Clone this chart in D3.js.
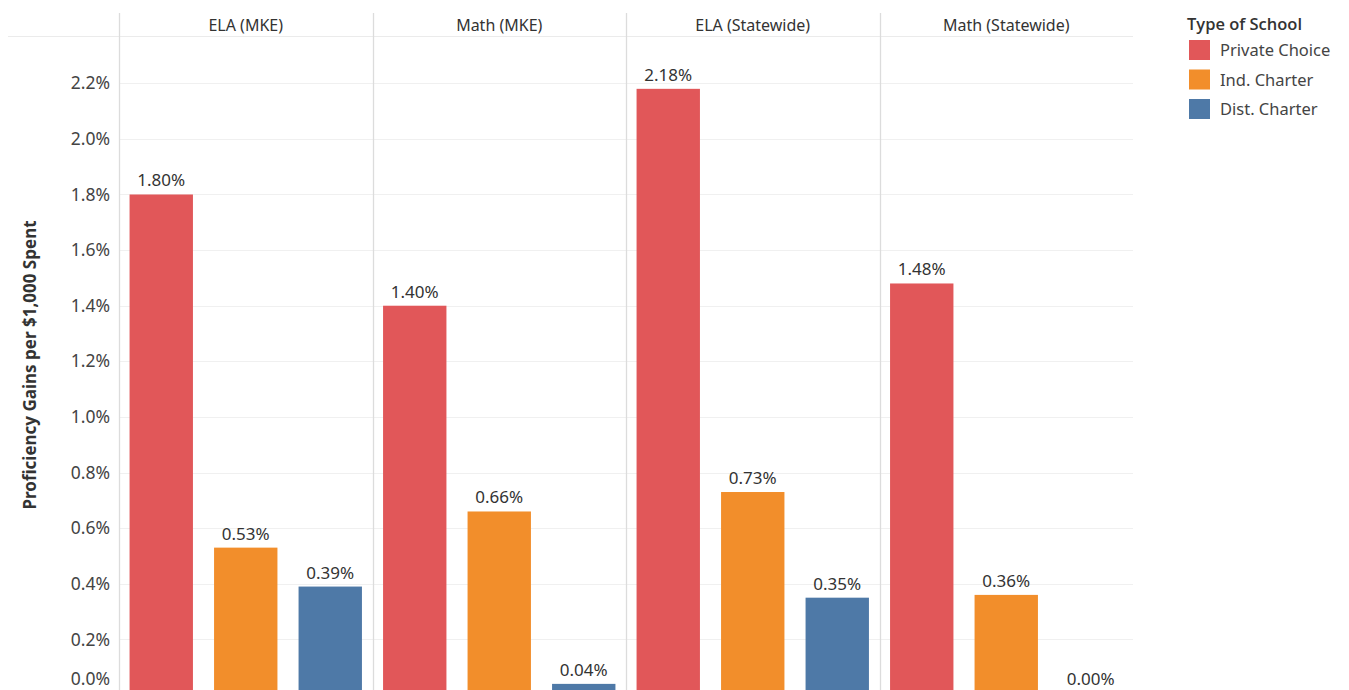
<!DOCTYPE html>
<html>
<head>
<meta charset="utf-8">
<script src="https://cdn.jsdelivr.net/npm/d3@7"></script>
<style>
  html, body { margin: 0; padding: 0; background: #fff; }
  svg { display: block; font-family: "Noto Sans", "Open Sans", sans-serif; }
</style>
</head>
<body>
<svg id="chart" width="1349" height="690"></svg>
<script>
// Panels (subject / region) and school types
const panels = ["ELA (MKE)", "Math (MKE)", "ELA (Statewide)", "Math (Statewide)"];
const schoolTypes = ["Private Choice", "Ind. Charter", "Dist. Charter"];
const typeColors = ["#E15759", "#F28E2B", "#4E79A7"];

// Proficiency gains per $1,000 spent (%), one array per school type, in panel order
const privateChoice = [1.80, 1.40, 2.18, 1.48];
const indCharter    = [0.53, 0.66, 0.73, 0.36];
const distCharter   = [0.39, 0.04, 0.35, 0.00];

const yTicks = [0.0, 0.2, 0.4, 0.6, 0.8, 1.0, 1.2, 1.4, 1.6, 1.8, 2.0, 2.2];

const seriesValues = [privateChoice, indCharter, distCharter];
const rows = [];
panels.forEach((p, pi) => {
  schoolTypes.forEach((t, ti) => {
    rows.push({ panel: p, type: t, value: seriesValues[ti][pi] });
  });
});

const svg = d3.select("#chart");
const H = 690;

const plotLeft = 119, plotRight = 1133;
const headerTop = 13, headerBottom = 36;
const zeroY = 695;
// lowest baseline a text may sit on so it stays inside the view
const maxBaseline = 685;

const x0 = d3.scaleBand().domain(panels).range([plotLeft, plotRight]).padding(0);
const x1 = d3.scaleBand().domain(schoolTypes).range([0, x0.bandwidth()])
  .paddingInner(0.25).paddingOuter(0.125);
const y = d3.scaleLinear().domain([0, 2.37]).range([zeroY, headerBottom]);
const color = d3.scaleOrdinal().domain(schoolTypes).range(typeColors);

// horizontal gridlines
svg.append("g")
  .selectAll("line")
  .data(yTicks.filter(d => d > 0))
  .join("line")
  .attr("x1", plotLeft).attr("x2", plotRight)
  .attr("y1", d => Math.round(y(d)) + 0.5).attr("y2", d => Math.round(y(d)) + 0.5)
  .attr("stroke", "#f0f0f0").attr("stroke-width", 1.2);

// header bottom rule
svg.append("line")
  .attr("x1", 8).attr("x2", plotRight)
  .attr("y1", headerBottom + 0.5).attr("y2", headerBottom + 0.5)
  .attr("stroke", "#ebebeb").attr("stroke-width", 1.2);

// panel dividers
svg.append("g")
  .selectAll("line")
  .data(panels)
  .join("line")
  .attr("x1", d => Math.round(x0(d)) + 0.5).attr("x2", d => Math.round(x0(d)) + 0.5)
  .attr("y1", headerTop).attr("y2", H)
  .attr("stroke", "#dcdcdc").attr("stroke-width", 1.3);

// panel headers
svg.append("g")
  .selectAll("text")
  .data(panels)
  .join("text")
  .attr("x", d => x0(d) + x0.bandwidth() / 2)
  .attr("y", 31)
  .attr("text-anchor", "middle")
  .attr("font-size", 16)
  .attr("fill", "#333")
  .text(d => d);

// y-axis
const yAxis = d3.axisLeft(y)
  .tickValues(yTicks)
  .tickFormat(d => d.toFixed(1) + "%")
  .tickSize(0)
  .tickPadding(9);
const yAxisG = svg.append("g")
  .attr("transform", `translate(${plotLeft},0)`)
  .call(yAxis);
yAxisG.select(".domain").remove();
// keep each tick label inside the view
yAxisG.selectAll(".tick")
  .attr("transform", d => `translate(0,${Math.min(y(d), maxBaseline - 6)})`);
yAxisG.selectAll("text")
  .attr("font-family", "Noto Sans, sans-serif")
  .attr("font-size", 17.5)
  .attr("fill", "#444")
  .attr("dy", "0.35em");

// y-axis title
svg.append("text")
  .attr("transform", "translate(36,365) rotate(-90)")
  .attr("text-anchor", "middle")
  .attr("font-size", 17)
  .attr("font-weight", 700)
  .attr("fill", "#333")
  .text("Proficiency Gains per $1,000 Spent");

// bars
const barG = svg.append("g");
barG.selectAll("rect")
  .data(rows)
  .join("rect")
  .attr("x", d => x0(d.panel) + x1(d.type))
  .attr("width", x1.bandwidth())
  .attr("y", d => y(d.value))
  .attr("height", d => y(0) - y(d.value))
  .attr("fill", d => color(d.type));

// value labels
barG.selectAll("text")
  .data(rows)
  .join("text")
  .attr("x", d => x0(d.panel) + x1(d.type) + x1.bandwidth() / 2)
  .attr("y", d => Math.min(y(d.value) - 8, maxBaseline))
  .attr("text-anchor", "middle")
  .attr("font-size", 17)
  .attr("fill", "#333")
  .text(d => d.value.toFixed(2) + "%");

// legend
const legend = svg.append("g").attr("transform", "translate(1187,0)");
legend.append("text")
  .attr("x", 0).attr("y", 30)
  .attr("font-family", "Open Sans, Noto Sans, sans-serif")
  .attr("font-size", 16.5)
  .attr("font-weight", 600)
  .attr("fill", "#333")
  .text("Type of School");
const items = legend.selectAll("g.item")
  .data(schoolTypes)
  .join("g")
  .attr("class", "item")
  .attr("transform", (d, i) => `translate(2,${40 + i * 29.5})`);
items.append("rect")
  .attr("width", 21).attr("height", 20)
  .attr("fill", d => color(d));
items.append("text")
  .attr("x", 31).attr("y", 16)
  .attr("font-size", 16.5)
  .attr("fill", "#444")
  .text(d => d);
</script>
</body>
</html>
